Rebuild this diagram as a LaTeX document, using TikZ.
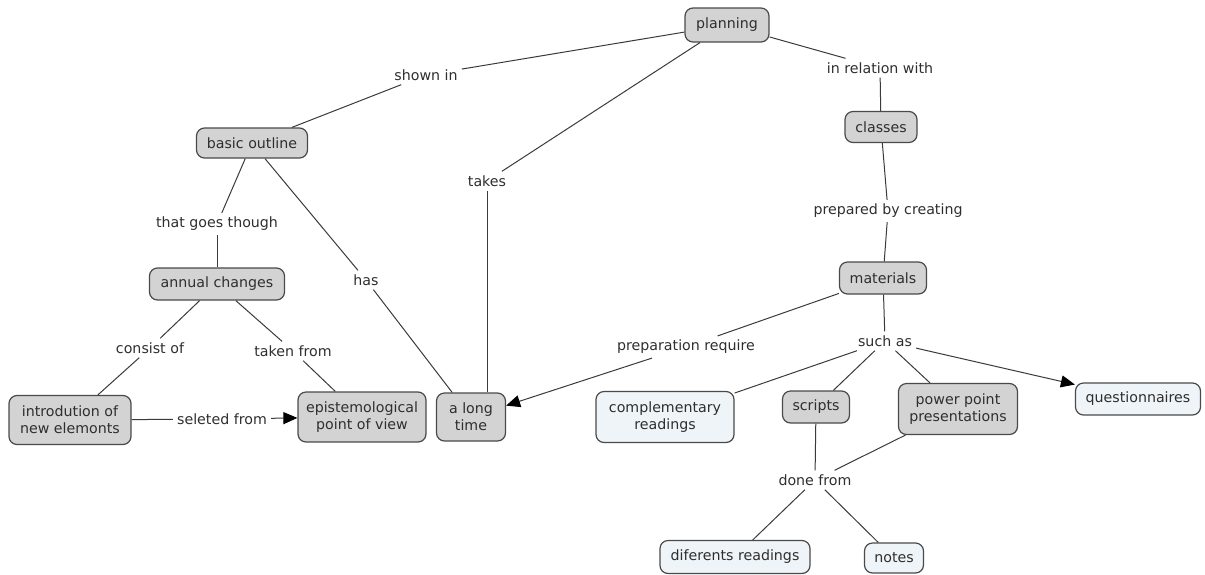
\documentclass[tikz,border=0pt]{standalone}
\usepackage{fontspec}
\setmainfont{DejaVu Sans}
\usetikzlibrary{arrows.meta}
\definecolor{boxgray}{HTML}{D3D3D3}
\definecolor{boxlight}{HTML}{EEF4F8}
\definecolor{edgecol}{HTML}{3A3A3A}
\definecolor{bordercol}{HTML}{4A4A4A}
\definecolor{textcol}{HTML}{2E2E2E}
\begin{document}
\begin{tikzpicture}[x=1pt,y=-1pt,
  concept/.style={draw=bordercol,line width=1.2pt,rounded corners=8pt,fill=boxgray,align=center,inner sep=0pt,
    font=\fontsize{14.2}{17}\selectfont,text=textcol},
  light/.style={concept,fill=boxlight},
  linklabel/.style={align=center,inner sep=4pt,font=\fontsize{14.2}{17}\selectfont,text=textcol},
  conn/.style={draw=edgecol,line width=1pt},
  arr/.style={conn,-{Triangle[length=14pt,width=12pt,color=black]}}]
\useasboundingbox (0,0) rectangle (1205,574);
% concepts
\node[concept,minimum width=84pt,minimum height=34pt] (planning) at (727,25) {planning};
\node[concept,minimum width=111pt,minimum height=30pt] (outline) at (252,143) {basic outline};
\node[concept,minimum width=72pt,minimum height=31pt] (classes) at (881,127) {classes};
\node[concept,minimum width=135pt,minimum height=32pt] (annual) at (217,284) {annual changes};
\node[concept,minimum width=87pt,minimum height=32pt] (materials) at (883,278) {materials};
\node[concept,minimum width=122pt,minimum height=49pt] (intro) at (70,420) {introdution of\\new elemonts};
\node[concept,minimum width=128pt,minimum height=50pt] (episte) at (362,417) {epistemological\\point of view};
\node[concept,minimum width=69pt,minimum height=48pt] (longtime) at (471,417) {a long\\time};
\node[light,minimum width=138pt,minimum height=51pt] (compl) at (665,417) {complementary\\readings};
\node[concept,minimum width=67pt,minimum height=32pt] (scripts) at (816,407) {scripts};
\node[concept,minimum width=119pt,minimum height=51pt] (ppt) at (958,409) {power point\\presentations};
\node[light,minimum width=125pt,minimum height=32pt] (quest) at (1138,399) {questionnaires};
\node[light,minimum width=150pt,minimum height=33pt] (difer) at (735,557) {diferents readings};
\node[light,minimum width=59pt,minimum height=30pt] (notes) at (894,558) {notes};
% linking phrases
\node[linklabel] (shown) at (426,75) {shown in};
\node[linklabel] (relation) at (880,68) {in relation with};
\node[linklabel] (takes) at (487,181) {takes};
\node[linklabel] (prepared) at (888,211) {prepared by creating};
\node[linklabel] (goes) at (217,224) {that goes though};
\node[linklabel] (has) at (366,280) {has};
\node[linklabel] (consist) at (150,348) {consist of};
\node[linklabel] (taken) at (293,351) {taken from};
\node[linklabel] (prepreq) at (686,347) {preparation require};
\node[linklabel] (such) at (885,341) {such as};
\node[linklabel] (seleted) at (222,419) {seleted from};
\node[linklabel] (done) at (815,480) {done from};
% connectors
\draw[conn] (planning) -- (shown);
\draw[conn] (shown) -- (outline);
\draw[conn] (planning) -- (takes);
\draw[conn] (takes.south) -- (takes.south |- longtime.north);
\draw[conn] (planning) -- (relation);
\draw[conn] (relation) -- (classes);
\draw[conn] (classes) -- (prepared);
\draw[conn] (prepared) -- (materials);
\draw[conn] (outline) -- (goes);
\draw[conn] (goes) -- (annual);
\draw[conn] (outline) -- (has);
\draw[conn] (has) -- (longtime);
\draw[conn] (annual) -- (consist);
\draw[conn] (consist) -- (intro);
\draw[conn] (annual) -- (taken);
\draw[conn] (taken) -- (episte);
\draw[conn] (intro) -- (seleted);
\draw[arr] (seleted) -- (episte);
\draw[conn] (materials) -- (prepreq);
\draw[arr] (prepreq) -- (longtime);
\draw[conn] (materials) -- (such);
\draw[conn] (such) -- (compl);
\draw[conn] (such) -- (scripts);
\draw[conn] (such) -- (ppt);
\draw[arr] (such) -- (quest);
\draw[conn] (scripts) -- (done);
\draw[conn] (ppt) -- (done);
\draw[conn] (done) -- (difer);
\draw[conn] (done) -- (notes);
\end{tikzpicture}
\end{document}
